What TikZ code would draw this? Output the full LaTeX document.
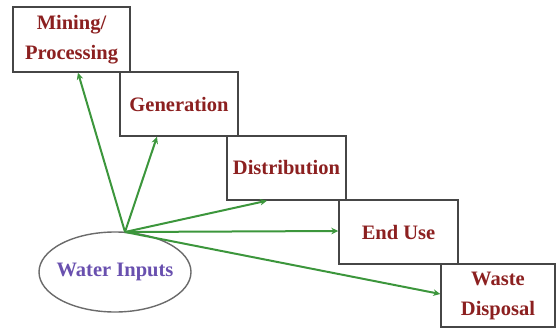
\documentclass[tikz,border=0pt]{standalone}
\usepackage{fontspec}
\setmainfont{Liberation Serif}
\usetikzlibrary{arrows.meta,shapes.geometric}
\definecolor{boxtext}{RGB}{140,32,32}
\definecolor{ovaltext}{RGB}{105,80,175}
\definecolor{arrowgreen}{RGB}{60,150,60}
\definecolor{edgegray}{RGB}{70,70,70}
\tikzset{
  stagebox/.style={draw=edgegray, line width=1.4pt, fill=white, rectangle, inner sep=0pt,
    align=center, text=boxtext, font=\bfseries\fontsize{20.5}{30}\selectfont},
  inputoval/.style={draw=edgegray!80, line width=1.4pt, fill=white, ellipse, inner xsep=-6pt, inner ysep=0pt,
    minimum width=152pt, minimum height=80pt, text=ovaltext, font=\bfseries\fontsize{20.5}{22}\selectfont},
  flow/.style={draw=arrowgreen, line width=2pt, -{Stealth[length=7pt,width=6.5pt]}}
}
\begin{document}
\begin{tikzpicture}[x=1pt,y=-1pt]
\useasboundingbox (0,0) rectangle (557,329);
\node[stagebox, minimum width=117pt, minimum height=65pt] (mining) at (71.5,39.5) {Mining/\\Processing};
\node[stagebox, minimum width=118pt, minimum height=64pt] (gen) at (179,104) {Generation};
\node[stagebox, minimum width=119pt, minimum height=64pt] (dist) at (286.5,168) {Distribution};
\node[stagebox, minimum width=119pt, minimum height=64pt] (enduse) at (398.5,232) {End Use};
\node[stagebox, minimum width=114pt, minimum height=63pt] (waste) at (498,295.5) {Waste\\Disposal};
\node[inputoval] (water) at (115,272) {Water Inputs};
\coordinate (hub) at (125,232);
\draw[flow] (hub) -- (mining.south -| 78,0);
\draw[flow] (hub) -- (gen.south -| 157,0);
\draw[flow] (hub) -- (dist.south -| 267,0);
\draw[flow] (hub) -- (enduse.west |- 0,231);
\draw[flow] (hub) -- (waste.west |- 0,294);
\end{tikzpicture}
\end{document}
